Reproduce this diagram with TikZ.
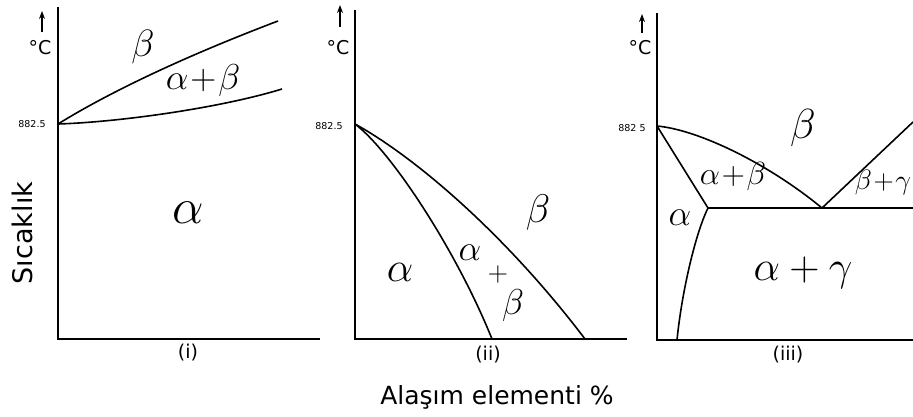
\RequirePackage{fix-cm}
\documentclass[tikz,border=0pt]{standalone}
\usepackage{fontspec}
\setsansfont{DejaVu Sans}
\usetikzlibrary{arrows.meta}
\tikzset{
  axisline/.style={line width=2.2pt},
  phaseline/.style={line width=1.6pt},
  uparrow/.style={line width=1.4pt,-{Stealth[length=8pt,width=6pt]}},
  greek/.style={inner sep=0pt},
  small/.style={font=\sffamily\fontsize{9.5}{9.5}\selectfont,inner sep=0pt},
  unit/.style={font=\sffamily\fontsize{19}{19}\selectfont,inner sep=0pt},
  panellbl/.style={font=\sffamily\fontsize{19}{19}\selectfont,inner sep=0pt},
  big/.style={font=\sffamily\fontsize{25}{25}\selectfont,inner sep=0pt}
}
\begin{document}
\begin{tikzpicture}[x=1pt,y=-1pt]
\useasboundingbox (0,0) rectangle (913,416);
% ---------- panel (i)
\coordinate (a1t) at (58,7);
\coordinate (a1o) at (58,339);
\coordinate (a1r) at (320,339);
\coordinate (p1) at (58,124);
\coordinate (u1) at (278,21);
\coordinate (l1) at (282,89);
\coordinate (ar1s) at (42,32);
\coordinate (ar1e) at (42,11);
\draw[axisline] (a1t) -- (a1o) -- (a1r);
\draw[uparrow] (ar1s) -- (ar1e);
\draw[phaseline] (p1) .. controls (100,98) and (170,62) .. (u1);
\draw[phaseline] (p1) .. controls (120,122) and (220,108) .. (l1);
\node[unit] (c1) at (40,48) {°C};
\node[small] (t1) at (32,124) {882.5};
\node[greek] (b1) at (143,47) {\fontsize{38}{38}\selectfont$\beta$};
\node[greek] (ab1) at (203,80) {\fontsize{36}{36}\selectfont$\alpha\!+\!\beta$};
\node[greek] (al1) at (188,213) {\fontsize{50}{50}\selectfont$\alpha$};
\node[big,rotate=90] (sic) at (22,233) {\fontsize{27}{27}\selectfont Sıcaklık};
\node[panellbl] (i1) at (188,353) {(i)};
% ---------- panel (ii)
\coordinate (a2t) at (355,10);
\coordinate (a2o) at (355,339);
\coordinate (a2r) at (627,339);
\coordinate (p2) at (355,124);
\coordinate (e2a) at (492,339);
\coordinate (e2b) at (585,339);
\coordinate (ar2s) at (340,27);
\coordinate (ar2e) at (340,5);
\draw[axisline] (a2t) -- (a2o) -- (a2r);
\draw[uparrow] (ar2s) -- (ar2e);
\draw[phaseline] (p2) .. controls (392,152) and (457,252) .. (e2a);
\draw[phaseline] (p2) .. controls (420,160) and (510,240) .. (e2b);
\node[unit] (c2) at (338,48) {°C};
\node[small] (t2) at (329,126) {882.5};
\node[greek] (b2) at (538,212) {\fontsize{40}{40}\selectfont$\beta$};
\node[greek] (al2) at (400,272) {\fontsize{42}{42}\selectfont$\alpha$};
\node[greek] (al2b) at (470,253) {\fontsize{36}{36}\selectfont$\alpha$};
\node[greek] (pl2) at (498,274) {\fontsize{28}{28}\selectfont$+$};
\node[greek] (b2b) at (513,305) {\fontsize{36}{36}\selectfont$\beta$};
\node[panellbl] (i2) at (488,355) {(ii)};
\node[big] (xl) at (497,397) {Alaşım elementi \%};
% ---------- panel (iii)
\coordinate (a3t) at (657,13);
\coordinate (a3o) at (657,340);
\coordinate (a3r) at (913,340);
\coordinate (p3) at (657,126);
\coordinate (q3) at (708,208);
\coordinate (e3) at (822,208);
\coordinate (h3) at (913,208);
\coordinate (r3) at (913,122);
\coordinate (f3) at (677,340);
\coordinate (ar3s) at (642,33);
\coordinate (ar3e) at (642,14);
\draw[axisline] (a3t) -- (a3o) -- (a3r);
\draw[uparrow] (ar3s) -- (ar3e);
\draw[phaseline] (p3) .. controls (700,130) and (770,165) .. (e3);
\draw[phaseline] (p3) -- (q3) -- (h3);
\draw[phaseline] (q3) .. controls (696,232) and (682,290) .. (f3);
\draw[phaseline] (e3) -- (r3);
\node[unit] (c3) at (640,48) {°C};
\node[small] (t3) at (632,128) {882 5};
\node[greek] (b3) at (803,128) {\fontsize{42}{42}\selectfont$\beta$};
\node[greek] (ab3) at (733,176) {\fontsize{32}{32}\selectfont$\alpha\!+\!\beta$};
\node[greek] (al3) at (680,218) {\fontsize{36}{36}\selectfont$\alpha$};
\node[greek] (bg3) at (883,182) {\fontsize{28}{28}\selectfont$\beta\!+\!\gamma$};
\node[greek] (ag3) at (803,273) {\fontsize{42}{42}\selectfont$\alpha+\gamma$};
\node[panellbl] (i3) at (788,355) {(iii)};
\end{tikzpicture}
\end{document}
